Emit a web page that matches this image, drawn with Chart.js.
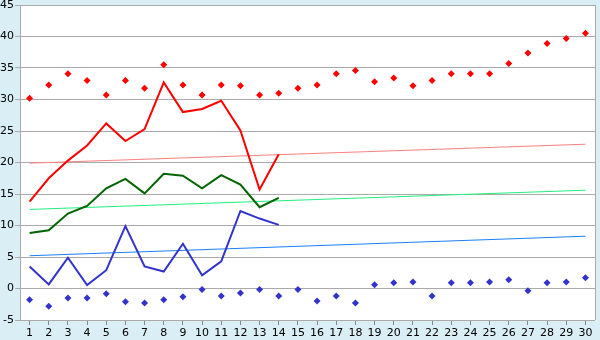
<!DOCTYPE html>
<html>
<head>
<meta charset="utf-8">
<script src="https://cdn.jsdelivr.net/npm/chart.js@4/dist/chart.umd.min.js"></script>
<style>
  html, body { margin: 0; padding: 0; background: #d9eef5; }
  #wrap { width: 600px; height: 340px; }
</style>
</head>
<body>
<div id="wrap"><canvas id="chart"></canvas></div>
<script>
const days = [];
for (let d = 1; d <= 30; d++) days.push(String(d));

// upper markers (red) and lower markers (blue), one per day
const redDots = [30.2, 32.3, 34.1, 33.0, 30.7, 33.0, 31.8, 35.5, 32.3, 30.7,
                 32.3, 32.2, 30.7, 31.0, 31.8, 32.3, 34.1, 34.6, 32.8, 33.4,
                 32.2, 33.0, 34.1, 34.1, 34.1, 35.7, 37.4, 38.9, 39.7, 40.5];
const blueDots = [-1.8, -2.8, -1.5, -1.5, -0.85, -2.1, -2.3, -1.8, -1.3, -0.15,
                  -1.2, -0.7, -0.15, -1.2, -0.15, -2.0, -1.2, -2.3, 0.6, 0.9,
                  1.05, -1.2, 0.9, 0.9, 1.05, 1.4, -0.35, 0.9, 1.05, 1.7];

// lines, first 14 days only
const redLine = [13.8, 17.5, 20.3, 22.7, 26.2, 23.4, 25.3, 32.7, 28.0, 28.5, 29.8, 25.1, 15.7, 21.3];
const greenLine = [8.8, 9.25, 11.9, 13.1, 15.9, 17.4, 15.1, 18.2, 17.9, 15.9, 18.0, 16.5, 12.9, 14.4];
const blueLine = [3.5, 0.65, 4.9, 0.55, 2.9, 9.9, 3.5, 2.7, 7.1, 2.1, 4.3, 12.3, 11.1, 10.1];

// trend lines: value on day 1 and day 30
const redTrend = [19.9, 22.9];
const greenTrend = [12.55, 15.6];
const blueTrend = [5.2, 8.3];

const yTicks = [-5, 0, 5, 10, 15, 20, 25, 30, 35, 40, 45];

function ends(pair) {
  const arr = new Array(days.length).fill(null);
  arr[0] = pair[0];
  arr[days.length - 1] = pair[1];
  return arr;
}

const plotBg = {
  id: 'plotBg',
  beforeDraw(chart) {
    const { ctx, chartArea: a } = chart;
    ctx.save();
    ctx.fillStyle = '#ffffff';
    ctx.fillRect(a.left, a.top, a.right - a.left, a.bottom - a.top);
    ctx.restore();
  },
  afterDatasetsDraw(chart) {
    const { ctx, chartArea: a } = chart;
    ctx.save();
    ctx.strokeStyle = '#aaaaaa';
    ctx.lineWidth = 1;
    ctx.beginPath();
    ctx.moveTo(Math.round(a.right) + 0.5, a.top);
    ctx.lineTo(Math.round(a.right) + 0.5, a.bottom);
    ctx.stroke();
    ctx.restore();
  }
};

Chart.defaults.font.family = "'DejaVu Sans', Verdana, sans-serif";
Chart.defaults.font.size = 11;
Chart.defaults.color = '#000';

new Chart(document.getElementById('chart'), {
  type: 'line',
  data: {
    labels: days,
    datasets: [
      { data: ends(redTrend), borderColor: '#ff8080', borderWidth: 1, pointRadius: 0, spanGaps: true, order: 5 },
      { data: ends(greenTrend), borderColor: '#22f080', borderWidth: 1, pointRadius: 0, spanGaps: true, order: 5 },
      { data: ends(blueTrend), borderColor: '#1a80ff', borderWidth: 1, pointRadius: 0, spanGaps: true, order: 5 },
      { data: redLine, borderColor: '#ff0000', borderWidth: 2, pointRadius: 0, order: 2 },
      { data: greenLine, borderColor: '#006400', borderWidth: 2, pointRadius: 0, order: 2 },
      { data: blueLine, borderColor: '#3333cc', borderWidth: 2, pointRadius: 0, order: 2 },
      { data: redDots, showLine: false, pointStyle: 'rectRot', pointRadius: 3.5, backgroundColor: '#ff0000', borderColor: '#ff0000', borderWidth: 0, order: 1 },
      { data: blueDots, showLine: false, pointStyle: 'rectRot', pointRadius: 3.5, backgroundColor: '#3333cc', borderColor: '#3333cc', borderWidth: 0, order: 1 }
    ]
  },
  options: {
    responsive: true,
    maintainAspectRatio: false,
    animation: false,
    layout: { padding: { top: 5, right: 5, left: 0, bottom: 0 } },
    plugins: { legend: { display: false }, tooltip: { enabled: false } },
    elements: { line: { tension: 0 } },
    scales: {
      x: {
        offset: true,
        grid: { drawOnChartArea: false, drawTicks: true, tickLength: 5, color: '#888' },
        border: { display: false },
        ticks: { padding: 2, maxRotation: 0, autoSkip: false },
        afterFit(s) { s.height = 20; s.paddingLeft = 0; s.paddingRight = 0; }
      },
      y: {
        min: yTicks[0],
        max: yTicks[yTicks.length - 1],
        afterBuildTicks(s) { s.ticks = yTicks.map(v => ({ value: v })); },
        grid: { color: '#aaaaaa', tickLength: 5 },
        border: { color: '#aaaaaa' },
        ticks: { padding: 1 },
        afterFit(s) { s.width = 20; s.paddingTop = 0; s.paddingBottom = 0; }
      }
    }
  },
  plugins: [plotBg]
});
</script>
</body>
</html>
